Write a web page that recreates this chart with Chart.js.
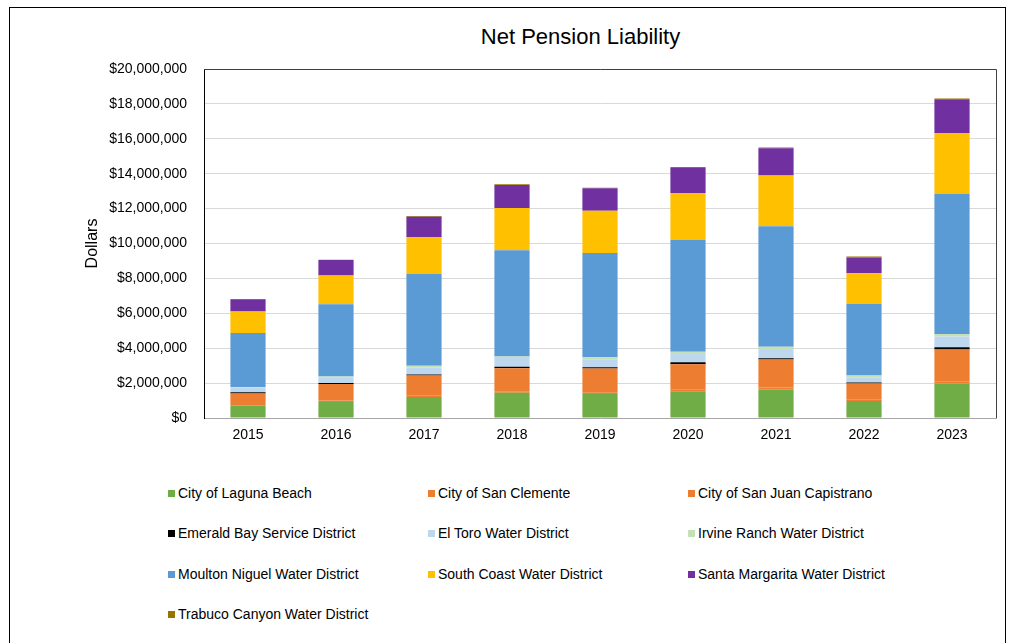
<!DOCTYPE html>
<html>
<head>
<meta charset="utf-8">
<script src="https://cdn.jsdelivr.net/npm/chart.js@4.4.1/dist/chart.umd.min.js"></script>
<style>
  body { margin: 0; background: #fff; font-family: "Liberation Sans", Arial, sans-serif; }
  #frame { position: absolute; left: 9px; top: 7px; width: 995px; height: 700px; border: 1px solid #000; }
  #title { position: absolute; left: 0; width: 1161px; top: 24px; line-height: 26px; text-align: center; font-size: 22px; color: #000; }
  #wrap { position: absolute; left: 0; top: 0; width: 1009px; height: 460px; }
  .leg { position: absolute; font-size: 14px; color: #000; white-space: nowrap; line-height: 16px; }
  .leg span { display: inline-block; width: 7px; height: 7px; margin-right: 3px; vertical-align: 1px; }
</style>
</head>
<body>
<div id="frame"></div>
<div id="title">Net Pension Liability</div>
<div id="wrap"><canvas id="chart"></canvas></div>
<div id="legend"></div>
<script>
/* ================= DATA ================= */

const years = ["2015", "2016", "2017", "2018", "2019", "2020", "2021", "2022", "2023"];

// values in millions of dollars, bottom of the stack first
const lagunaBeach    = [0.71, 0.91, 1.20, 1.45, 1.37, 1.54, 1.64, 0.97, 1.97];
const sanClemente    = [0.03, 0.10, 0.10, 0.09, 0.08, 0.11, 0.11, 0.08, 0.13];
const sanJuanCap     = [0.67, 0.94, 1.14, 1.31, 1.39, 1.43, 1.60, 0.93, 1.83];
const emeraldBay     = [0.06, 0.05, 0.06, 0.09, 0.07, 0.11, 0.07, 0.06, 0.13];
const elToro         = [0.28, 0.34, 0.40, 0.50, 0.46, 0.48, 0.53, 0.30, 0.61];
const irvineRanch    = [0.03, 0.04, 0.10, 0.09, 0.11, 0.13, 0.13, 0.10, 0.15];
const moultonNiguel  = [3.09, 4.14, 5.27, 6.08, 5.97, 6.40, 6.91, 4.10, 8.02];
const southCoast     = [1.24, 1.64, 2.10, 2.43, 2.42, 2.69, 2.91, 1.75, 3.49];
const santaMargarita = [0.69, 0.89, 1.16, 1.31, 1.30, 1.43, 1.56, 0.91, 1.94];
const trabucoCanyon  = [0.02, 0.02, 0.04, 0.04, 0.03, 0.06, 0.04, 0.05, 0.04];

const yTicks = [0, 2, 4, 6, 8, 10, 12, 14, 16, 18, 20];

const seriesNames = [
  "City of Laguna Beach", "City of San Clemente", "City of San Juan Capistrano",
  "Emerald Bay Service District", "El Toro Water District", "Irvine Ranch Water District",
  "Moulton Niguel Water District", "South Coast Water District", "Santa Margarita Water District",
  "Trabuco Canyon Water District"
];
const seriesData = [
  lagunaBeach, sanClemente, sanJuanCap, emeraldBay, elToro,
  irvineRanch, moultonNiguel, southCoast, santaMargarita, trabucoCanyon
];
const seriesColors = [
  "#70AD47", "#ED7D31", "#ED7D31", "#000000", "#BDD7EE",
  "#C5E0B4", "#5B9BD5", "#FFC000", "#7030A0", "#997300"
];

/* ================= LEGEND ================= */

const legCols = [168, 428, 688];
const legRows = [485, 525, 566, 606];
const legend = document.getElementById("legend");
seriesNames.forEach((name, i) => {
  const d = document.createElement("div");
  d.className = "leg";
  d.style.left = legCols[i % 3] + "px";
  d.style.top = legRows[Math.floor(i / 3)] + "px";
  d.innerHTML = `<span style="background:${seriesColors[i]}"></span>${name}`;
  legend.appendChild(d);
});

/* ================= CHART ================= */

function money(v) {
  return "$" + (v * 1000000).toLocaleString("en-US");
}

const plotBorder = {
  id: "plotBorder",
  afterDraw(chart) {
    const { ctx, chartArea: a } = chart;
    ctx.save();
    ctx.strokeStyle = "#404040";
    ctx.lineWidth = 1;
    ctx.beginPath();
    ctx.moveTo(a.left, a.top + 0.5);
    ctx.lineTo(a.right + 0.5, a.top + 0.5);
    ctx.lineTo(a.right + 0.5, a.bottom);
    ctx.stroke();
    ctx.restore();
  }
};

new Chart(document.getElementById("chart"), {
  type: "bar",
  data: {
    labels: years,
    datasets: seriesNames.map((name, i) => ({
      label: name,
      data: seriesData[i],
      backgroundColor: seriesColors[i],
      borderWidth: 0,
      barPercentage: 0.4,
      categoryPercentage: 1
    }))
  },
  options: {
    responsive: true,
    maintainAspectRatio: false,
    animation: false,
    layout: { padding: { top: 69, right: 13, left: 79, bottom: 0 } },
    plugins: {
      legend: { display: false },
      tooltip: { enabled: false }
    },
    scales: {
      x: {
        stacked: true,
        grid: { display: false, drawTicks: false },
        border: { color: "#a6a6a6", width: 1 },
        ticks: { color: "#000", font: { family: "Liberation Sans", size: 14 }, padding: 9 },
        afterFit: s => { s.height = 42; }
      },
      y: {
        stacked: true,
        min: 0,
        max: 20,
        afterBuildTicks: s => { s.ticks = yTicks.map(v => ({ value: v })); },
        grid: { color: "#d9d9d9", drawTicks: false },
        border: { color: "#000", width: 1 },
        ticks: {
          color: "#000",
          font: { family: "Liberation Sans", size: 14 },
          padding: 17,
          callback: v => money(v)
        },
        title: {
          display: true,
          text: "Dollars",
          color: "#000",
          font: { family: "Liberation Sans", size: 16 }
        },
        afterFit: s => { s.width = 125; }
      }
    }
  },
  plugins: [plotBorder]
});
</script>
</body>
</html>
